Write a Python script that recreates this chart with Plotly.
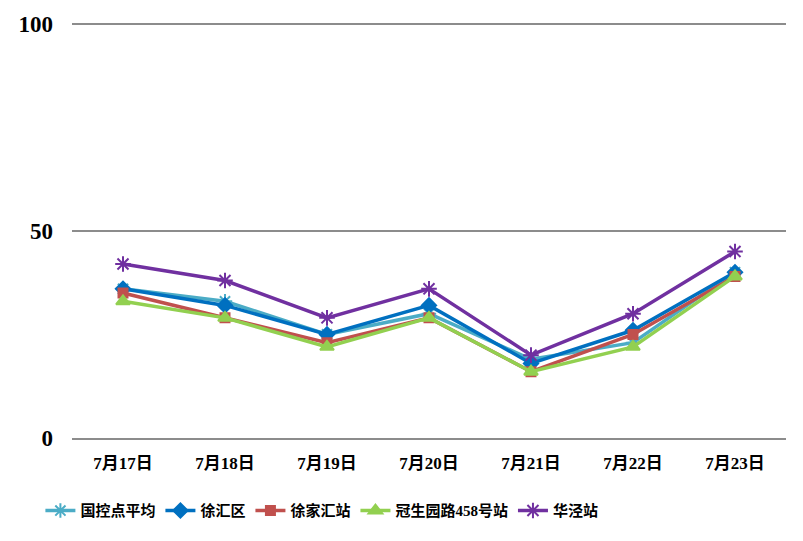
"""
Air quality index by station, 7/17 - 7/23
Line chart with one series per monitoring station
"""

import plotly.graph_objects as go

# Data
DATES = ['7月17日', '7月18日', '7月19日', '7月20日', '7月21日', '7月22日', '7月23日']

NATIONAL_AVG = [36, 33, 25, 30, 19, 23, 40]   # 国控点平均
XUHUI = [36, 32, 25, 32, 18, 26, 40]          # 徐汇区
XUJIAHUI = [35, 29, 23, 29, 16, 25, 39]       # 徐家汇站
GUANSHENG = [33, 29, 22, 29, 16, 22, 39]      # 冠生园路458号站
HUAJING = [42, 38, 29, 36, 20, 30, 45]        # 华泾站

Y_TICKS = [0, 50, 100]

FONT_FAMILY = 'Liberation Serif, Noto Sans CJK SC'
GRID_COLOR = '#8c8c8c'

SERIES = [
    ('国控点平均', NATIONAL_AVG, '#4BACC6', 'asterisk-open', 12),
    ('徐汇区', XUHUI, '#0070C0', 'diamond', 11),
    ('徐家汇站', XUJIAHUI, '#C0504D', 'square', 9),
    ('冠生园路458号站', GUANSHENG, '#92D050', 'triangle-up', 12),
    ('华泾站', HUAJING, '#7030A0', 'asterisk-open', 13),
]


def build_figure():
    fig = go.Figure()

    for name, values, color, symbol, size in SERIES:
        fig.add_trace(go.Scatter(
            x=DATES,
            y=values,
            name=name,
            mode='lines+markers',
            line=dict(color=color, width=3.5),
            marker=dict(symbol=symbol, size=size, color=color,
                        line=dict(color=color, width=2))
        ))

    # page body has an 8px margin, so the margins are shifted to compensate
    fig.update_layout(
        width=803,
        height=541,
        margin=dict(l=64, r=25, t=14, b=111),
        plot_bgcolor='white',
        paper_bgcolor='white',
        font=dict(family=FONT_FAMILY, size=16, color='black', weight='bold'),
        showlegend=True,
        legend=dict(
            orientation='h',
            x=0.35, xanchor='center',
            y=-0.175, yanchor='middle',
            font=dict(size=15, family=FONT_FAMILY, weight='bold'),
            itemwidth=30,
            tracegroupgap=0,
        ),
        xaxis=dict(
            range=[-0.5, len(DATES) - 0.5],
            showline=True,
            linecolor=GRID_COLOR,
            linewidth=2,
            showgrid=False,
            ticks='',
            ticklabelstandoff=9,
            tickfont=dict(size=17),
            automargin=False,
        ),
        yaxis=dict(
            range=[0, 100.4],
            tickvals=Y_TICKS,
            showgrid=True,
            gridcolor=GRID_COLOR,
            gridwidth=1.5,
            zeroline=False,
            showline=False,
            ticks='',
            ticklabelstandoff=18,
            tickfont=dict(size=23),
            automargin=False,
        ),
    )
    return fig


def main():
    fig = build_figure()
    fig.write_html('out.html')
    print('[OK] Saved: out.html')


if __name__ == '__main__':
    main()
